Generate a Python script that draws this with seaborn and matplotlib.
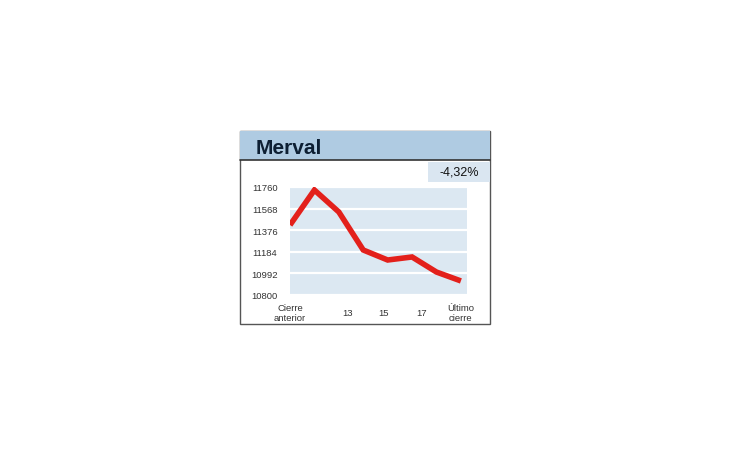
import numpy as np
import pandas as pd
import seaborn as sns
import matplotlib.pyplot as plt
from matplotlib.patches import Rectangle

# Data
sessions = ["Cierre anterior", "12", "13", "14", "15", "16", "17", "Último cierre"]
values = [11422, 11733, 11538, 11200, 11111, 11138, 11004, 10925]
y_ticks = [10800, 10992, 11184, 11376, 11568, 11760]
x_tick_pos = [0, 2.34, 3.85, 5.37, 7]
x_tick_labels = ["Cierre\nanterior", "13", "15", "17", "Último\ncierre"]
title = "Merval"
change = "-4,32%"

sns.set_style("white")
plt.rcParams["font.family"] = ["Liberation Sans", "DejaVu Sans"]

W, H = 730, 460
fig = plt.figure(figsize=(W / 100, H / 100), dpi=100)
fig.patch.set_facecolor("white")


def px(x0, y0, x1, y1):
    return [x0 / W, 1 - y1 / H, (x1 - x0) / W, (y1 - y0) / H]


# frame + header
fig.patches.append(Rectangle((240 / W, 1 - 325 / H), 250 / W, 193 / H,
                             transform=fig.transFigure, facecolor="none",
                             edgecolor="#555555", linewidth=1.0, zorder=0))
fig.patches.append(Rectangle((240 / W, 1 - 161 / H), 250 / W, 29 / H,
                             transform=fig.transFigure, facecolor="#afcbe2",
                             edgecolor="none", zorder=1))
fig.lines.append(plt.Line2D([240 / W, 490 / W], [1 - 161 / H, 1 - 161 / H],
                            transform=fig.transFigure, color="#333333", linewidth=1.2))
fig.text(256 / W, 1 - 149 / H, title, fontsize=15, fontweight="bold",
         color="#0d1f33", va="center", ha="left")

# change badge
fig.patches.append(Rectangle((428 / W, 1 - 183 / H), 62 / W, 20 / H,
                             transform=fig.transFigure, facecolor="#dae6f1",
                             edgecolor="none", zorder=1))
fig.text(479 / W, 1 - 173 / H, change, fontsize=9, color="#111111",
         va="center", ha="right")

# plot
ax = fig.add_axes(px(290, 188, 467, 296))
ax.set_zorder(5)
df = pd.DataFrame({"x": np.arange(len(values)), "valor": values})
sns.lineplot(data=df, x="x", y="valor", ax=ax, color="#e3201b",
             linewidth=4.0, solid_joinstyle="miter", solid_capstyle="butt")
ax.set_facecolor("#dce8f2")
ax.set_xlim(0, 7.25)
ax.set_ylim(y_ticks[0], y_ticks[-1])
ax.set_yticks(y_ticks)
ax.set_yticklabels([str(v) for v in y_ticks])
ax.set_xticks(x_tick_pos)
ax.set_xticklabels(x_tick_labels, linespacing=1.1, va="center")
ax.yaxis.grid(True, color="white", linewidth=1.6)
ax.xaxis.grid(False)
ax.set_axisbelow(True)
ax.tick_params(axis="y", length=0, pad=9, labelsize=6.8, labelcolor="#333333")
ax.tick_params(axis="x", length=0, pad=12.5, labelsize=6.8, labelcolor="#333333")
ax.set_xlabel("")
ax.set_ylabel("")
for s in ax.spines.values():
    s.set_visible(False)

fig.savefig("out.png", dpi=100)
